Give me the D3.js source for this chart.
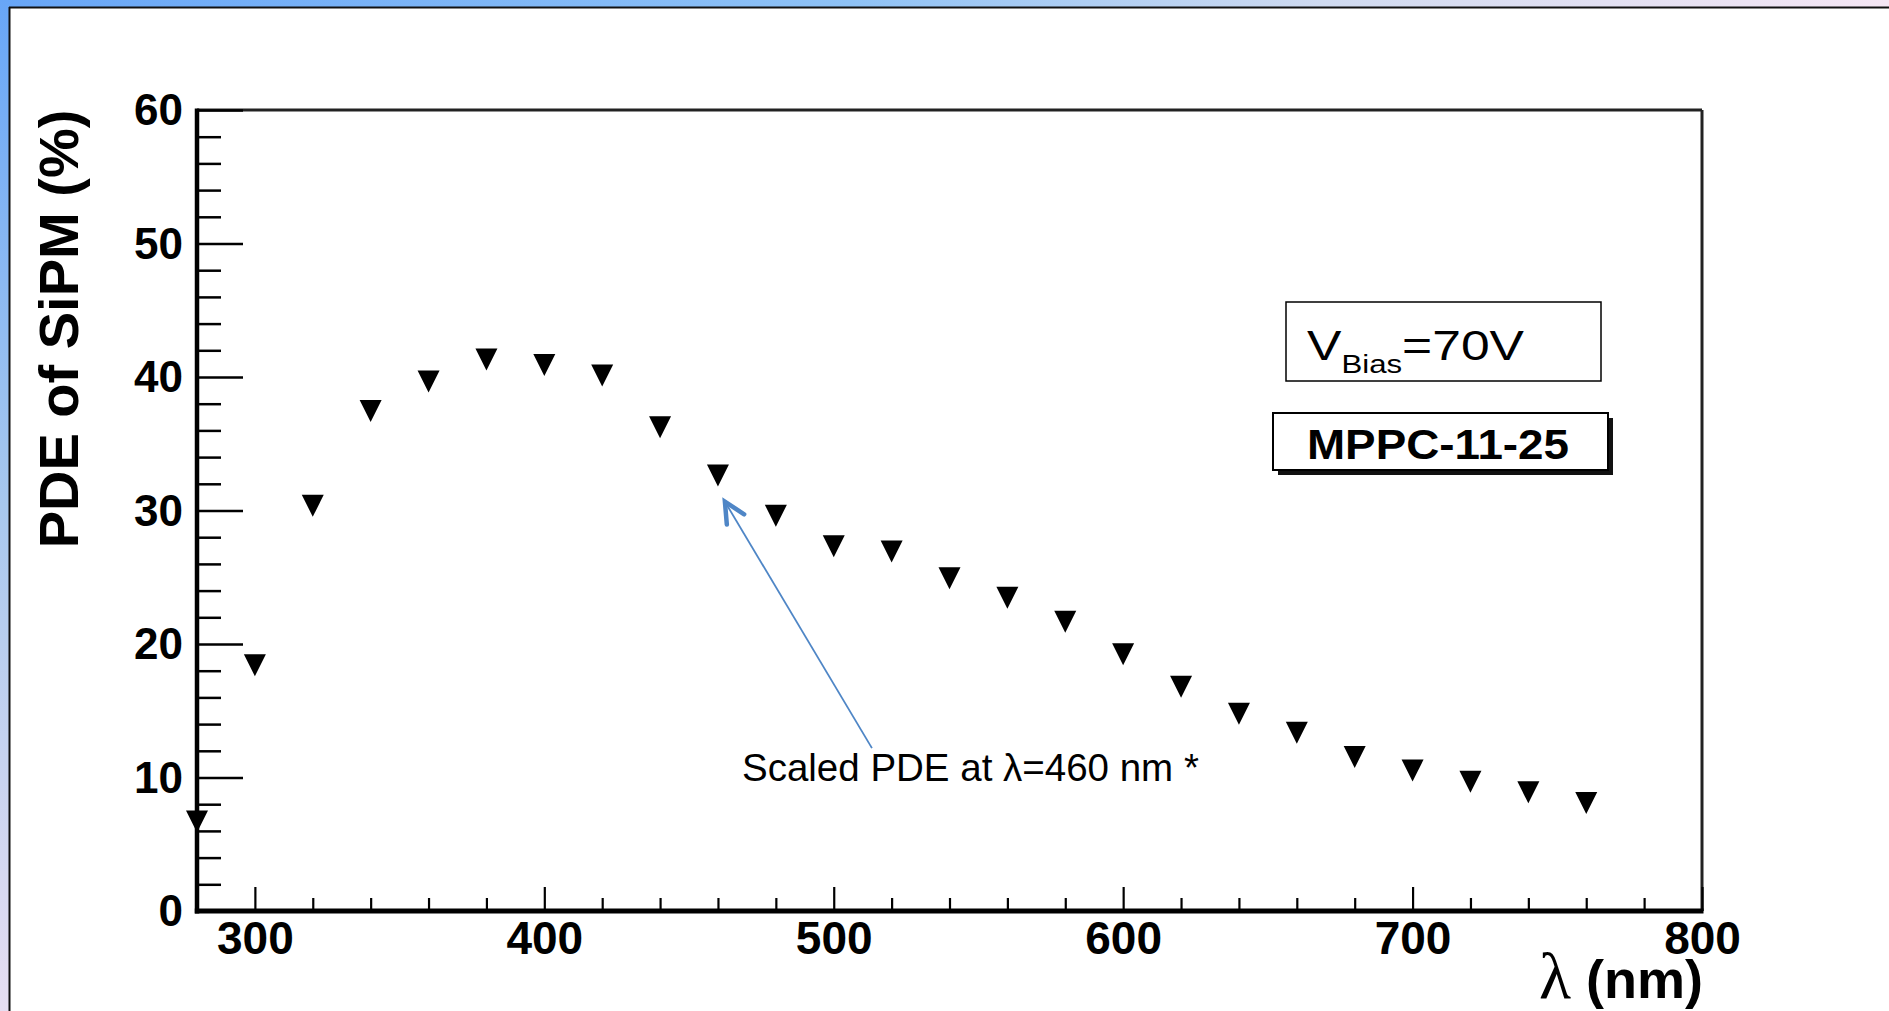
<!DOCTYPE html>
<html>
<head>
<meta charset="utf-8">
<script src="https://cdn.jsdelivr.net/npm/d3@7"></script>
<style>
  html, body { margin: 0; padding: 0; background: #fff; }
  svg { display: block; }
  text { font-family: "Liberation Sans", Arial, Helvetica, sans-serif; fill: #000; }
</style>
</head>
<body>
<svg id="chart" width="1889" height="1011"></svg>
<script>
// ---------- data ----------
const wavelengths = [280, 300, 320, 340, 360, 380, 400, 420, 440, 460, 480, 500, 520,
                     540, 560, 580, 600, 620, 640, 660, 680, 700, 720, 740, 760];
const pdeValues   = [6.7, 18.4, 30.35, 37.46, 39.66, 41.31, 40.9, 40.11, 36.24, 32.62, 29.6, 27.33, 26.92,
                     24.92, 23.47, 21.67, 19.23, 16.8, 14.78, 13.36, 11.54, 10.52, 9.69, 8.89, 8.09];
const xTickLabels = [300, 400, 500, 600, 700, 800];
const yTickLabels = [0, 10, 20, 30, 40, 50, 60];
const xDomain = [280, 800];
const yDomain = [0, 60];
const xTitle = "λ";
const xTitleUnit = " (nm)";
const yTitle = "PDE of SiPM (%)";
const biasLabelMain = "V";
const biasLabelSub = "Bias";
const biasLabelValue = "=70V";
const deviceLabel = "MPPC-11-25";
const annotationText = "Scaled PDE at λ=460 nm *";
// annotation anchor points in data units
const arrowTip = { x: 462.4, y: 30.66 };
const arrowTail = { x: 513.2, y: 12.2 };
const annotationPos = { x: 468.3, y: 9.74 };

// ---------- setup ----------
const svg = d3.select("#chart");
const W = 1889, H = 1011;

const defs = svg.append("defs");
const gTop = defs.append("linearGradient").attr("id", "gTop").attr("x1", 0).attr("x2", 1).attr("y1", 0).attr("y2", 0);
gTop.append("stop").attr("offset", 0).attr("stop-color", "#68a6f7");
gTop.append("stop").attr("offset", 0.45).attr("stop-color", "#8ec2f6");
gTop.append("stop").attr("offset", 0.7).attr("stop-color", "#cfdaf0");
gTop.append("stop").attr("offset", 1).attr("stop-color", "#f5e6f4");
const gLeft = defs.append("linearGradient").attr("id", "gLeft").attr("x1", 0).attr("x2", 0).attr("y1", 0).attr("y2", 1);
gLeft.append("stop").attr("offset", 0).attr("stop-color", "#68a6f7");
gLeft.append("stop").attr("offset", 0.5).attr("stop-color", "#a8c8ee");
gLeft.append("stop").attr("offset", 1).attr("stop-color", "#e6def2");

svg.append("rect").attr("width", W).attr("height", H).attr("fill", "#fff");
svg.append("rect").attr("x", 0).attr("y", 0).attr("width", W).attr("height", 7).attr("fill", "url(#gTop)");
svg.append("rect").attr("x", 0).attr("y", 0).attr("width", 9).attr("height", H).attr("fill", "url(#gLeft)");
svg.append("line").attr("x1", 9).attr("x2", W).attr("y1", 7.5).attr("y2", 7.5).attr("stroke", "#111").attr("stroke-width", 2);
svg.append("line").attr("x1", 9.5).attr("x2", 9.5).attr("y1", 7).attr("y2", H).attr("stroke", "#111").attr("stroke-width", 2);

// ---------- scales ----------
const x = d3.scaleLinear().domain(xDomain).range([197, 1702]);
const y = d3.scaleLinear().domain(yDomain).range([911, 110]);

// frame top and right
svg.append("line").attr("x1", x(xDomain[0])).attr("x2", x(xDomain[1])).attr("y1", y(yDomain[1])).attr("y2", y(yDomain[1]))
  .attr("stroke", "#222").attr("stroke-width", 3);
svg.append("line").attr("x1", x(xDomain[1])).attr("x2", x(xDomain[1])).attr("y1", y(yDomain[1])).attr("y2", y(yDomain[0]))
  .attr("stroke", "#222").attr("stroke-width", 3);

// ---------- axes ----------
const yMinor = d3.range(yDomain[0], yDomain[1] + 0.001, 2).filter(v => v % 10 !== 0);
const xMinor = d3.range(xDomain[0], xDomain[1] + 0.001, 20).filter(v => v % 100 !== 0 && v !== xDomain[0]);

const yAxisMinor = svg.append("g").attr("transform", `translate(${x(xDomain[0])},0)`)
  .call(d3.axisLeft(y).tickValues(yMinor).tickSizeInner(-24).tickSizeOuter(0).tickFormat(""));
yAxisMinor.select(".domain").remove();
const yAxis = svg.append("g").attr("transform", `translate(${x(xDomain[0])},0)`)
  .call(d3.axisLeft(y).tickValues(yTickLabels).tickSizeInner(-46).tickSizeOuter(0).tickPadding(14).tickFormat(d3.format("d")));
yAxis.select(".domain").remove();
svg.selectAll("g.tick line").attr("stroke", "#000").attr("stroke-width", 2.5);
yAxis.selectAll("text").attr("font-size", 44).attr("font-weight", "bold").attr("dy", "0.34em");

const xAxisMinor = svg.append("g").attr("transform", `translate(0,${y(yDomain[0])})`)
  .call(d3.axisBottom(x).tickValues(xMinor).tickSizeInner(-13).tickSizeOuter(0).tickFormat(""));
xAxisMinor.select(".domain").remove();
const xAxis = svg.append("g").attr("transform", `translate(0,${y(yDomain[0])})`)
  .call(d3.axisBottom(x).tickValues(xTickLabels).tickSizeInner(-24).tickSizeOuter(0).tickPadding(10).tickFormat(d3.format("d")));
xAxis.select(".domain").remove();
xAxisMinor.selectAll("line").attr("stroke", "#000").attr("stroke-width", 2.2);
xAxis.selectAll("line").attr("stroke", "#000").attr("stroke-width", 2.2);
xAxis.selectAll("text").attr("font-size", 46).attr("font-weight", "bold").attr("dy", "0.71em");

// axis lines
svg.append("line").attr("x1", x(xDomain[0])).attr("x2", x(xDomain[0])).attr("y1", y(yDomain[1]) - 1.5).attr("y2", y(yDomain[0]) + 2.5)
  .attr("stroke", "#000").attr("stroke-width", 4.5);
svg.append("line").attr("x1", x(xDomain[0]) - 2.2).attr("x2", x(xDomain[1]) + 1.5).attr("y1", y(yDomain[0])).attr("y2", y(yDomain[0]))
  .attr("stroke", "#000").attr("stroke-width", 5);

// ---------- titles ----------
svg.append("text").attr("transform", `translate(78,329) rotate(-90)`)
  .attr("text-anchor", "middle").attr("font-size", 56).attr("font-weight", "bold").text(yTitle);

const xt = svg.append("text").attr("x", x(xDomain[1]) + 1).attr("y", 998).attr("text-anchor", "end");
xt.append("tspan").attr("font-family", "'Liberation Serif', 'Times New Roman', serif").attr("font-size", 66).text(xTitle);
xt.append("tspan").attr("font-size", 54).attr("font-weight", "bold").text(xTitleUnit);

// ---------- data markers ----------
const r = 11;
const tri = `M${-r},${-r}L${r},${-r}L0,${r}Z`;
svg.append("g").selectAll("path").data(wavelengths).join("path")
  .attr("d", tri)
  .attr("transform", (d, i) => `translate(${x(d)},${y(pdeValues[i])})`)
  .attr("fill", "#000");

// ---------- boxes ----------
svg.append("rect").attr("x", 1286).attr("y", 302).attr("width", 315).attr("height", 79)
  .attr("fill", "#fff").attr("stroke", "#000").attr("stroke-width", 1.5);
const vb = svg.append("g").attr("transform", "translate(1307,360) scale(1.2,1)");
const vbt = vb.append("text").attr("x", 0).attr("y", 0).attr("font-size", 43);
vbt.append("tspan").text(biasLabelMain);
vbt.append("tspan").attr("font-size", 26).attr("dy", 13).text(biasLabelSub);
vbt.append("tspan").attr("dy", -13).text(biasLabelValue);

svg.append("rect").attr("x", 1278).attr("y", 418).attr("width", 335).attr("height", 57).attr("fill", "#111");
svg.append("rect").attr("x", 1273).attr("y", 413).attr("width", 335).attr("height", 57)
  .attr("fill", "#fff").attr("stroke", "#000").attr("stroke-width", 2);
svg.append("text").attr("x", 1307).attr("y", 459).attr("font-size", 42).attr("font-weight", "bold")
  .attr("textLength", 262).attr("lengthAdjust", "spacingAndGlyphs").text(deviceLabel);

// ---------- annotation ----------
const arrowColor = "#4f86c6";
const tx = x(arrowTip.x), ty = y(arrowTip.y);
const sx = x(arrowTail.x), sy = y(arrowTail.y);
svg.append("line").attr("x1", sx).attr("y1", sy).attr("x2", tx).attr("y2", ty)
  .attr("stroke", arrowColor).attr("stroke-width", 1.8);
const ang = Math.atan2(sy - ty, sx - tx);
const headLen = 23, spread = 26 * Math.PI / 180;
const head = d3.path();
head.moveTo(tx + headLen * Math.cos(ang - spread), ty + headLen * Math.sin(ang - spread));
head.lineTo(tx, ty);
head.lineTo(tx + headLen * Math.cos(ang + spread), ty + headLen * Math.sin(ang + spread));
svg.append("path").attr("d", head.toString()).attr("fill", "none").attr("stroke", arrowColor)
  .attr("stroke-width", 4.5).attr("stroke-linecap", "round").attr("stroke-linejoin", "miter");

svg.append("text").attr("x", x(annotationPos.x)).attr("y", y(annotationPos.y))
  .attr("font-size", 38.5).text(annotationText);
</script>
</body>
</html>
